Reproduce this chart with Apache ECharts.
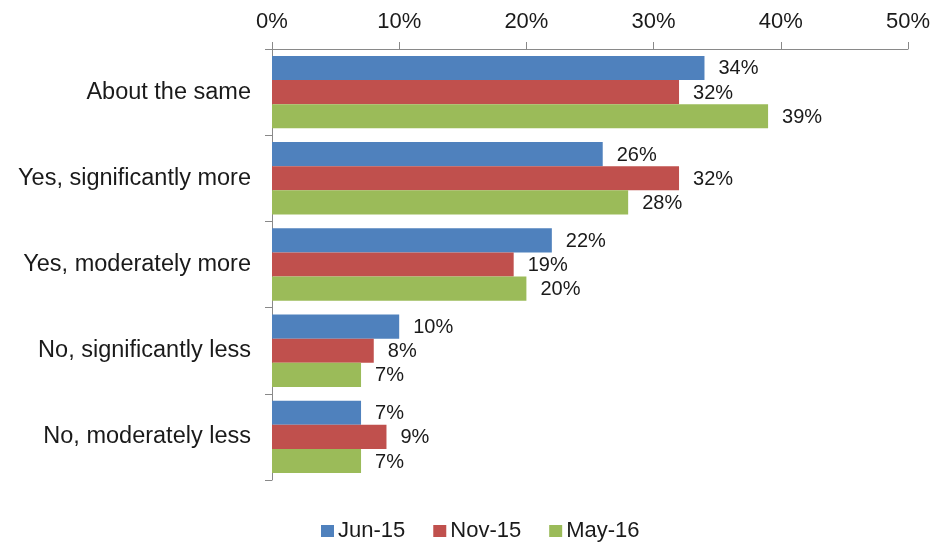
<!DOCTYPE html>
<html>
<head>
<meta charset="utf-8">
<script src="https://cdn.jsdelivr.net/npm/echarts@6/dist/echarts.min.js"></script>
<style>
  html, body { margin: 0; padding: 0; background: #fff; }
  #chart { width: 935px; height: 544px; }
</style>
</head>
<body>
<div id="chart"></div>
<script>
// Survey answers, top to bottom
const categories = [
  'About the same',
  'Yes, significantly more',
  'Yes, moderately more',
  'No, significantly less',
  'No, moderately less'
];
// Share of respondents (%) per survey wave
const jun15 = [34, 26, 22, 10, 7];
const nov15 = [32, 32, 19, 8, 9];
const may16 = [39, 28, 20, 7, 7];
const seriesNames = ['Jun-15', 'Nov-15', 'May-16'];
const colors = ['#4F81BD', '#C0504D', '#9BBB59'];

const font = 'Liberation Sans, Arial, sans-serif';
const textColor = '#1a1a1a';
const axisColor = '#898989';

const chart = echarts.init(document.getElementById('chart'));

function barSeries(name, data, color) {
  return {
    name: name,
    type: 'bar',
    data: data,
    barGap: '0%',
    barCategoryGap: '16%',
    itemStyle: { color: color },
    label: {
      show: true,
      position: 'right',
      distance: 14,
      offset: [0, 1],
      formatter: '{c}%',
      fontFamily: font,
      fontSize: 20,
      color: textColor
    }
  };
}

chart.setOption({
  animation: false,
  color: colors,
  grid: { left: 272, right: 27, top: 49, bottom: 64, containLabel: false },
  xAxis: {
    type: 'value',
    position: 'top',
    min: 0,
    max: 50,
    interval: 10,
    axisLine: { show: true, lineStyle: { color: axisColor, width: 1 } },
    axisTick: { show: true, length: 7, lineStyle: { color: axisColor } },
    splitLine: { show: false },
    axisLabel: {
      formatter: '{value}%',
      fontFamily: font,
      fontSize: 22,
      color: textColor,
      margin: 16
    }
  },
  yAxis: {
    type: 'category',
    data: categories,
    inverse: true,
    axisLine: { show: true, lineStyle: { color: axisColor, width: 1 } },
    axisTick: { show: true, length: 7, lineStyle: { color: axisColor } },
    axisLabel: {
      fontFamily: font,
      fontSize: 23.5,
      color: textColor,
      margin: 21
    }
  },
  legend: {
    top: 515,
    left: 316,
    itemWidth: 13,
    itemHeight: 12,
    itemGap: 28,
    icon: 'rect',
    textStyle: { fontFamily: font, fontSize: 22, color: textColor, padding: [0, 0, 0, -1] },
    data: seriesNames
  },
  series: [
    barSeries(seriesNames[0], jun15, colors[0]),
    barSeries(seriesNames[1], nov15, colors[1]),
    barSeries(seriesNames[2], may16, colors[2])
  ]
});
</script>
</body>
</html>
